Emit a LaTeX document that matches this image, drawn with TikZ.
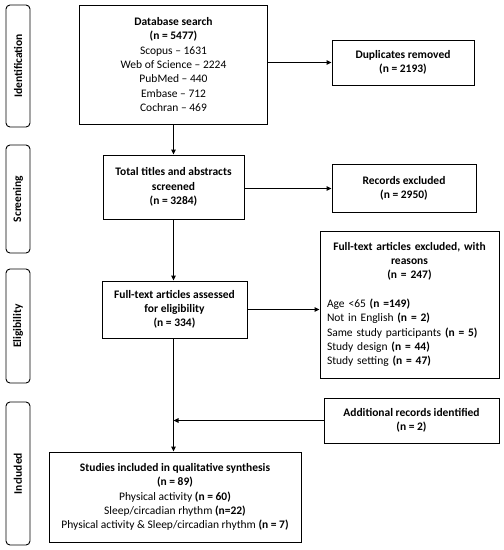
\documentclass[tikz,border=0pt]{standalone}
\usepackage{fontspec}
\setmainfont{Carlito}
\usetikzlibrary{arrows.meta,calc}
\begin{document}
\begin{tikzpicture}[x=1pt,y=-1pt,
  txt/.style={font=\fontsize{11.5}{14.3}\selectfont},
  box/.style={txt,draw=black,line width=0.9pt,align=center,inner sep=2pt},
  phase/.style={draw=black,line width=0.9pt,rounded corners=4pt},
  ptxt/.style={rotate=90,font=\fontsize{11.5}{14.3}\selectfont\bfseries},
  arr/.style={line width=1.1pt,-{Triangle[length=5pt,width=4.5pt]}}]
\useasboundingbox (0,0) rectangle (504,550);
% phase labels
\node[phase,minimum width=24pt,minimum height=122pt] (pI) at (18,66) {};
\node[ptxt] (tI) at (pI.center) {Identification};
\node[phase,minimum width=24pt,minimum height=108pt] (pS) at (18,199) {};
\node[ptxt] (tS) at (pS.center) {Screening};
\node[phase,minimum width=24pt,minimum height=114pt] (pE) at (18,326) {};
\node[ptxt] (tE) at (pE.center) {Eligibility};
\node[phase,minimum width=24pt,minimum height=143pt] (pN) at (18,473.5) {};
\node[ptxt] (tN) at (pN.center) {Included};
% main boxes
\node[box,minimum width=188pt,minimum height=119pt] (db) at (173.5,64.5)
  {\textbf{Database search}\\\textbf{(n = 5477)}\\Scopus -- 1631\\Web of Science -- 2224\\PubMed -- 440\\Embase -- 712\\Cochran -- 469};
\node[box,minimum width=142pt,minimum height=45pt] (dup) at (403,62.5)
  {\textbf{Duplicates removed}\\\textbf{(n = 2193)}};
\node[box,minimum width=141pt,minimum height=64pt] (tot) at (173.5,187)
  {\textbf{Total titles and abstracts}\\\textbf{screened}\\\textbf{(n = 3284)}};
\node[box,minimum width=144pt,minimum height=48pt] (rex) at (404,188.5)
  {\textbf{Records excluded}\\\textbf{(n = 2950)}};
\node[box,minimum width=145pt,minimum height=57pt] (ft) at (174.5,309.5)
  {\textbf{Full-text articles assessed}\\\textbf{for eligibility}\\\textbf{(n = 334)}};
\node[box,minimum width=179pt,minimum height=147pt,text width=165pt,align=left] (rea) at (409.5,304.5)
  {{\centering\textbf{Full-text articles excluded, with}\\\textbf{reasons}\\\textbf{(n = 247)}\par}
   \vspace{14.3pt}
   Age <65 \textbf{(n =149)}\\Not in English \textbf{(n = 2)}\\Same study participants \textbf{(n = 5)}\\Study design \textbf{(n = 44)}\\Study setting \textbf{(n = 47)}};
\node[box,minimum width=175pt,minimum height=45pt] (add) at (411.5,420.5)
  {\textbf{Additional records identified}\\\textbf{(n = 2)}};
\node[box,minimum width=252pt,minimum height=90pt] (inc) at (175,497)
  {\textbf{Studies included in qualitative synthesis}\\\textbf{(n = 89)}\\Physical activity \textbf{(n = 60)}\\Sleep/circadian rhythm \textbf{(n=22)}\\Physical activity \& Sleep/circadian rhythm \textbf{(n = 7)}};
% connectors
\draw[arr] (db.east |- dup.west) -- (dup.west);
\draw[arr] (db.south) -- (tot.north);
\draw[arr] (tot.east |- rex.west) -- (rex.west);
\draw[arr] (tot.south) -- (tot.south |- ft.north);
\draw[arr] (ft.east) -- (ft.east -| rea.west);
\draw[arr] (ft.south -| tot.south) -- (inc.north -| tot.south);
\draw[arr] (add.west) -- (add.west -| tot.south);
\end{tikzpicture}
\end{document}
